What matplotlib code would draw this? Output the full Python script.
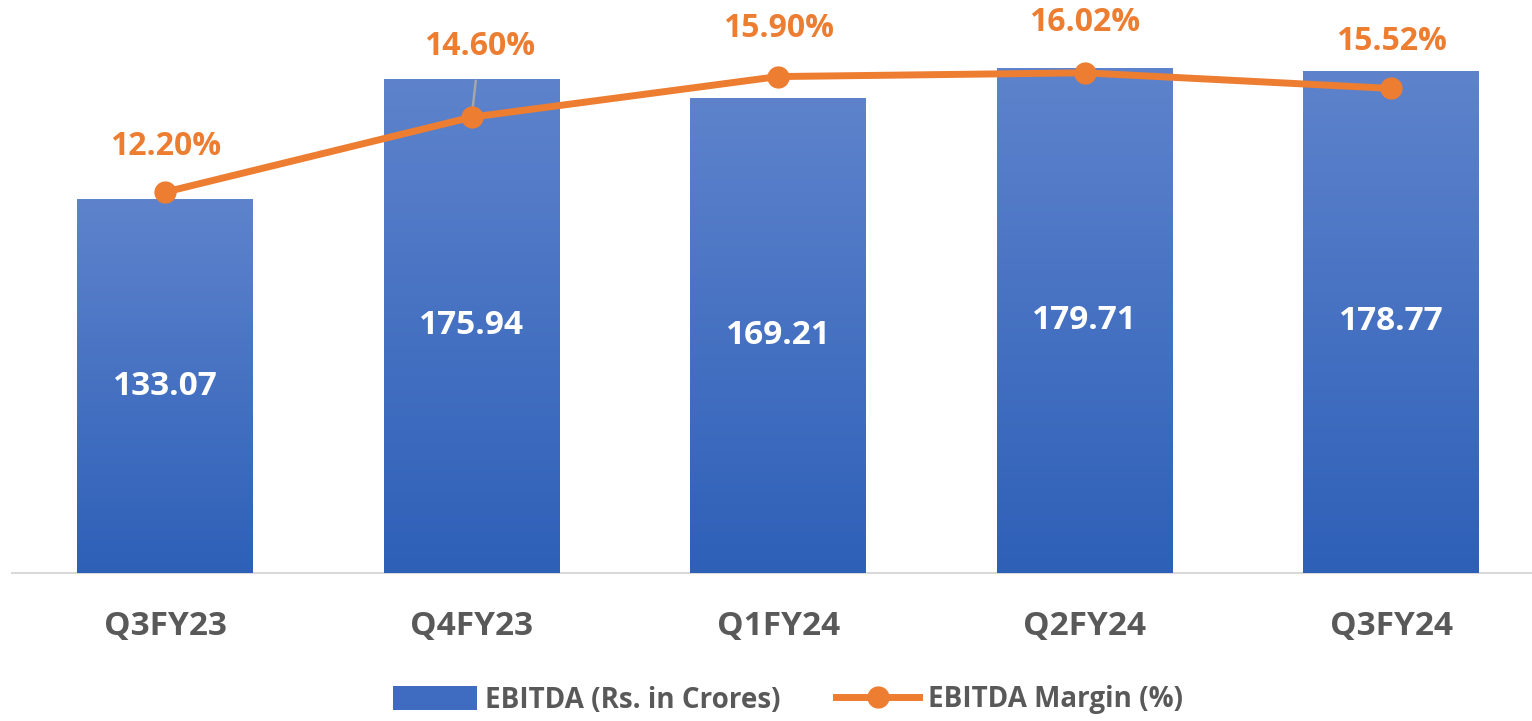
import numpy as np
import matplotlib
matplotlib.use('Agg')
import matplotlib.pyplot as plt
import matplotlib.patheffects as pe
from matplotlib.colors import LinearSegmentedColormap
from matplotlib.patches import Patch
from matplotlib.lines import Line2D

quarters = ['Q3FY23', 'Q4FY23', 'Q1FY24', 'Q2FY24', 'Q3FY24']
ebitda = [133.07, 175.94, 169.21, 179.71, 178.77]
margin = [12.20, 14.60, 15.90, 16.02, 15.52]

BLUE_TOP = '#5E83CC'
BLUE_BOT = '#2E60B8'
ORANGE = '#ED7D31'
GRAY = '#595959'

plt.rcParams['font.family'] = ['Open Sans', 'DejaVu Sans']
plt.rcParams['font.weight'] = 'bold'

fig = plt.figure(figsize=(15.32, 7.21), dpi=100)
W, H = 1532, 721
ax = fig.add_axes([12 / W, 1 - 573 / H, (1532 - 12) / W, (573 - 11) / H])
ax2 = ax.twinx()

x = np.arange(len(quarters))
bar_w = 0.574
cmap = LinearSegmentedColormap.from_list('grad', [BLUE_BOT, BLUE_TOP])
grad = np.linspace(0, 1, 256).reshape(-1, 1)

bars = ax.bar(x, ebitda, width=bar_w, color=BLUE_BOT, zorder=2)
for b in bars:
    b.set_path_effects([pe.SimplePatchShadow(offset=(0, 0), shadow_rgbFace='#7f7f7f',
                                             alpha=0.35, rho=0.9),
                        pe.Normal()])
    x0, w, h = b.get_x(), b.get_width(), b.get_height()
    im = ax.imshow(grad, cmap=cmap, origin='lower', aspect='auto',
                   extent=[x0, x0 + w, 0, h], zorder=3, interpolation='bilinear')
    im.set_clip_path(b)

for xi, v in zip(x, ebitda):
    ax.text(xi, v / 2, '%.2f' % v, ha='center', va='center', color='white',
            fontsize=24, fontweight='bold', zorder=5)

ax.set_xlim(-0.5, 4.46)
ax.set_ylim(0, 200)
ax2.set_ylim(0, 18)

ax2.plot(x, margin, color=ORANGE, lw=5, marker='o', ms=15, zorder=6,
         solid_capstyle='round')

offsets = [(0, 46), (8, 71), (0, 48), (0, 50), (0, 47)]
for xi, m, off in zip(x, margin, offsets):
    kw = {}
    if off[0] != 0:
        # leader line for the label moved away from its point
        kw['arrowprops'] = dict(arrowstyle='-', color='#A6A6A6', lw=1.8,
                                shrinkA=11, shrinkB=2)
    ax2.annotate('%.2f%%' % m, (xi, m), xytext=off, textcoords='offset pixels',
                 ha='center', va='center', color=ORANGE, fontsize=23,
                 fontweight='bold', **kw)

for a in (ax, ax2):
    for s in a.spines.values():
        s.set_visible(False)
    a.set_yticks([])
ax.spines['bottom'].set_visible(True)
ax.spines['bottom'].set_color('#D9D9D9')
ax.spines['bottom'].set_linewidth(1.5)
ax.set_xticks(x)
ax.set_xticklabels(quarters, fontsize=24, fontweight='bold', color=GRAY)
ax.tick_params(axis='x', length=0, pad=27)
ax2.set_zorder(ax.get_zorder() + 1)
ax.set_zorder(1)
ax2.patch.set_visible(False)

handles = [Patch(facecolor='#3F6CC0', label='EBITDA (Rs. in Crores)'),
           Line2D([], [], color=ORANGE, lw=5, marker='o', ms=15,
                  label='EBITDA Margin (%)')]
leg = fig.legend(handles=handles, loc='center', bbox_to_anchor=(788 / W, 1 - 700 / H),
                 ncol=2, frameon=False, fontsize=20, handlelength=3.0,
                 handleheight=1.0, columnspacing=2.0, handletextpad=0.3)
for t in leg.get_texts():
    t.set_color(GRAY)
    t.set_fontweight('bold')

fig.savefig('out.png', dpi=100)
